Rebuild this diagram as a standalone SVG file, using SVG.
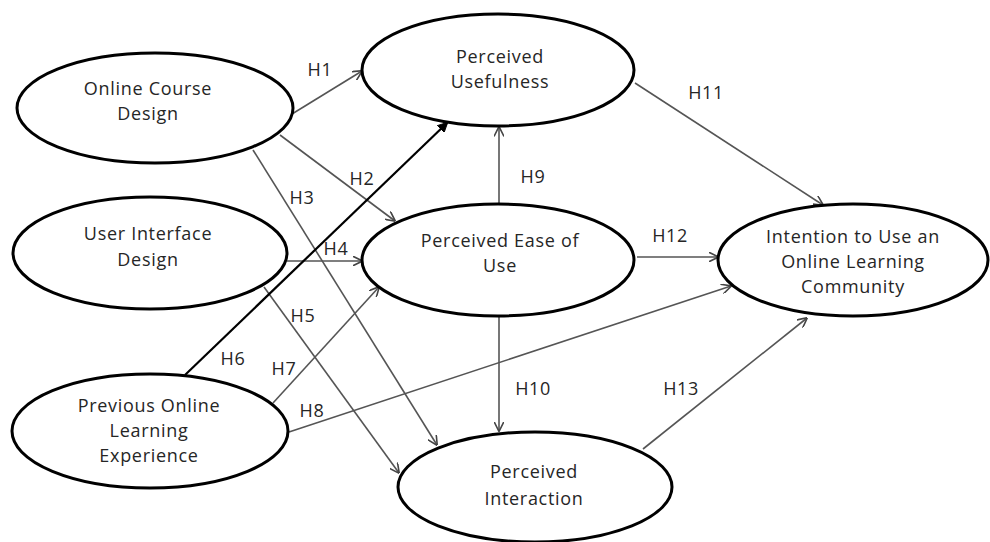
<svg xmlns="http://www.w3.org/2000/svg" width="990" height="542" viewBox="0 0 990 542">
<defs>
<marker id="arr" viewBox="0 0 10 10" refX="9.5" refY="5" markerWidth="10" markerHeight="10" markerUnits="userSpaceOnUse" orient="auto">
<path d="M0,0 L10,5 L0,10" fill="none" stroke="#444" stroke-width="1.6"/>
</marker>
<marker id="arrb" viewBox="0 0 10 10" refX="9" refY="5" markerWidth="10" markerHeight="10" markerUnits="userSpaceOnUse" orient="auto">
<path d="M0,0 L10,5 L0,10 Z" fill="#000" stroke="#000" stroke-width="1"/>
</marker>
</defs>
<style>
.node ellipse{fill:#fff;stroke:#000;stroke-width:3}
.node text{font-family:"Open Sans","Liberation Sans",sans-serif;font-size:18px;letter-spacing:0.7px;fill:#262626;text-anchor:middle}
.edge{stroke:#555;stroke-width:1.6;fill:none;marker-end:url(#arr)}
.lbl{font-family:"Open Sans","Liberation Sans",sans-serif;font-size:18px;letter-spacing:0.6px;fill:#262626;text-anchor:middle}
</style>
<rect width="990" height="542" fill="#fff"/>
<g id="connectors">
<line class="edge" x1="292" y1="114" x2="362" y2="71"/>
<line class="edge" x1="280" y1="135" x2="395" y2="221"/>
<line class="edge" x1="253" y1="150" x2="437" y2="445"/>
<line class="edge" x1="287" y1="261" x2="362" y2="261"/>
<line class="edge" x1="264" y1="287" x2="399" y2="473"/>
<line x1="185" y1="375" x2="447" y2="123" stroke="#000" stroke-width="2.2" marker-end="url(#arrb)"/>
<line class="edge" x1="273" y1="403" x2="379" y2="287"/>
<line class="edge" x1="289" y1="432" x2="731" y2="286"/>
<line class="edge" x1="499" y1="204" x2="499" y2="127"/>
<line class="edge" x1="499" y1="317" x2="499" y2="431"/>
<line class="edge" x1="635" y1="83" x2="823" y2="205"/>
<line class="edge" x1="637" y1="257" x2="718" y2="257"/>
<line class="edge" x1="643" y1="449" x2="807" y2="318"/>
<text class="lbl" x="320" y="76">H1</text>
<text class="lbl" x="362" y="185">H2</text>
<text class="lbl" x="302" y="204">H3</text>
<text class="lbl" x="336" y="255">H4</text>
<text class="lbl" x="303" y="322">H5</text>
<text class="lbl" x="233" y="365">H6</text>
<text class="lbl" x="284" y="375">H7</text>
<text class="lbl" x="312" y="417">H8</text>
<text class="lbl" x="533" y="183">H9</text>
<text class="lbl" x="533" y="395">H10</text>
<text class="lbl" x="706" y="99">H11</text>
<text class="lbl" x="670" y="242">H12</text>
<text class="lbl" x="681" y="395">H13</text>
</g>
<g id="ocd" class="node">
<ellipse cx="155" cy="108" rx="138" ry="55"/>
<text x="148" y="95">Online Course</text>
<text x="148" y="120">Design</text>
</g>
<g id="uid" class="node">
<ellipse cx="150" cy="253" rx="137" ry="56"/>
<text x="148" y="240">User Interface</text>
<text x="148" y="266">Design</text>
</g>
<g id="ple" class="node">
<ellipse cx="150" cy="431" rx="138" ry="57"/>
<text x="149" y="412">Previous Online</text>
<text x="149" y="437">Learning</text>
<text x="149" y="462">Experience</text>
</g>
<g id="pu" class="node">
<ellipse cx="498" cy="70" rx="136" ry="56"/>
<text x="500" y="63">Perceived</text>
<text x="500" y="88">Usefulness</text>
</g>
<g id="peu" class="node">
<ellipse cx="498" cy="260" rx="136" ry="56"/>
<text x="500" y="247">Perceived Ease of</text>
<text x="500" y="272">Use</text>
</g>
<g id="itu" class="node">
<ellipse cx="853" cy="260" rx="135" ry="56"/>
<text x="853" y="243">Intention to Use an</text>
<text x="853" y="268">Online Learning</text>
<text x="853" y="293">Community</text>
</g>
<g id="pi" class="node">
<ellipse cx="535" cy="487" rx="137" ry="55"/>
<text x="534" y="478">Perceived</text>
<text x="534" y="505">Interaction</text>
</g>
</svg>
